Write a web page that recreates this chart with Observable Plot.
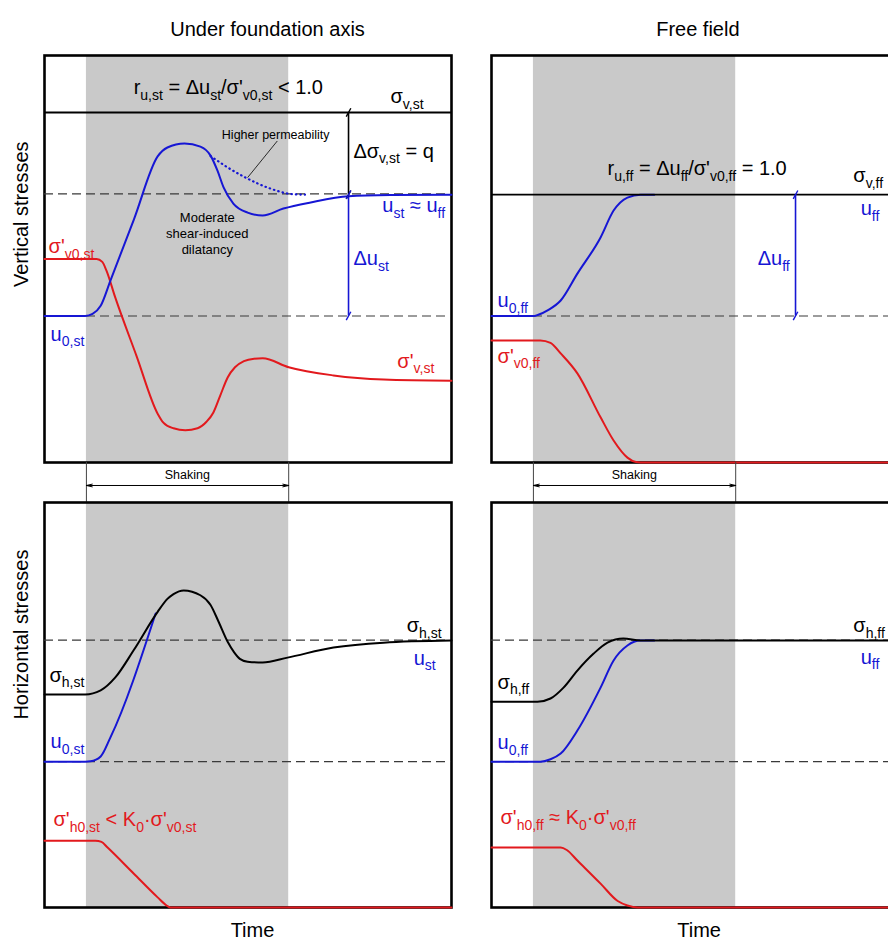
<!DOCTYPE html>
<html><head><meta charset="utf-8">
<script src="https://cdn.jsdelivr.net/npm/d3@7"></script>
<script src="https://cdn.jsdelivr.net/npm/@observablehq/plot@0.6"></script>
<style>
html,body{margin:0;padding:0;background:#fff;overflow:hidden;}
#chart{position:relative;width:888px;height:946px;overflow:hidden;background:#fff;}
#chart > div{position:absolute;}
</style></head><body><div id="chart"></div>
<script>
// ---------------- data (time 0–100, stress 0–100, schematic units) ----------------
const columnTitles = ["Under foundation axis", "Free field"];
const rowTitles = ["Vertical stresses", "Horizontal stresses"];
const timeLabel = "Time";
const shaking = [10.3, 60];            // start / end of shaking
const shakingLabel = "Shaking";

// vertical stresses, under foundation axis
const vStTotal = [[0, 86], [100, 86]];
const vStPore = [[0,36],[10,36],[11.8,36.5],[13.8,38.5],[16.2,44.7],[22,59.8],[27.8,75.2],[30.2,77.4],[34.4,78.4],[38.3,77.6],[40.8,75.4],[42.5,71.7],[44,67.6],[46.4,63.6],[49.9,61.4],[53.6,60.7],[58.7,62.4],[65.4,63.9],[74.7,65.4],[85,65.7],[100,65.8]];
const vStPoreHighPerm = [[40.8,75.3],[45,72.5],[49.4,70],[55.5,67.3],[60.4,66],[64,65.8]];
const vStEff = [[0,50],[12.8,50],[14.2,49.3],[15.2,47.2],[17.4,40.5],[22.6,26.2],[27.8,12],[29.2,9.8],[31.7,8.4],[34.6,7.9],[37.6,8.4],[39.8,10],[41.5,12.3],[43.2,16.5],[45,20.9],[46.8,23.4],[49,24.9],[51.5,25.5],[53.6,25.6],[60,23.4],[71,21.4],[83.3,20.4],[100,20.1]];
const vStRefs = [66, 36];
// vertical stresses, free field
const vFfTotal = [[0, 65.8], [100, 65.8]];
const vFfPore = [[0,36],[10.5,36],[11.5,36.3],[14,37.5],[17,39.8],[21.1,46.4],[26.8,55.3],[30,61.9],[33.4,65.1],[36.6,65.8],[40,65.8]];
const vFfEff = [[0,30],[12,30],[14.5,29.4],[17,26.8],[21.1,21.9],[26.8,11.1],[30,5.4],[33.4,1.2],[35.5,0.1],[36.6,0],[100,0]];
const vFfRefs = [36];
// horizontal stresses, under foundation axis
const hStTotal = [[0,52.6],[10,52.6],[13.8,53.6],[17.4,56.8],[21.9,63.5],[27.8,73.0],[30.2,76.2],[31.7,77.4],[34.2,78.3],[38.3,77.1],[40.8,74.7],[42.8,70.5],[45,65.6],[46.6,63.0],[48,61.4],[49.9,60.7],[53.6,60.5],[59.7,61.7],[71,64.2],[83.3,65.4],[100,65.9]];
const hStPore = [[0,36],[10,36],[11.3,36.1],[13.8,37.3],[16.2,42],[27.3,72.6]];
const hStEff = [[0,16.5],[12.5,16.5],[14,16.2],[15.5,14.8],[21.9,8.4],[27.8,2.5],[30,0.5],[31,0],[100,0]];
const hStRefs = [66, 36];
// horizontal stresses, free field
const hFfTotal = [[0,50.8],[11.3,50.8],[14.5,51.6],[17.7,54.3],[21.1,58.5],[25.1,62.7],[28.5,65.4],[32.4,66.4],[36.6,65.9],[100,65.9]];
const hFfPore = [[0,36],[12,36],[14.5,36.6],[17,38],[21.1,43.7],[26.8,54.3],[30,61],[33.4,64.7],[36.6,65.9],[40,65.9]];
const hFfEff = [[0,14.8],[17,14.8],[18.5,14.2],[21.1,11.6],[26.8,5.9],[31,1.6],[33.4,0.5],[35.9,0],[100,0]];
const hFfRefs = [66, 36];

const BLUE = "#1616d4", RED = "#e2191d", SHADE = "#c9c9c9";

// dimension arrows
const vStDims = [{x: 74.7, y1: 86, y2: 65.8, c: "black"}, {x: 74.7, y1: 65.8, y2: 36, c: BLUE}];
const vFfDims = [{x: 74.7, y1: 65.8, y2: 36, c: BLUE}];

// annotations
const vStLabels = [
  {x: 21.9, y: 92.0, t: "r_{u,st} = Δu_{st}/σ'_{v0,st} < 1.0", c: "black"},
  {x: 85.0, y: 89.8, t: "σ_{v,st}", c: "black"},
  {x: 75.9, y: 76.5, t: "Δσ_{v,st} = q", c: "black"},
  {x: 83.0, y: 63.0, t: "u_{st} ≈ u_{ff}", c: BLUE},
  {x: 1.0, y: 53.0, t: "σ'_{v0,st}", c: RED},
  {x: 75.9, y: 50.0, t: "Δu_{st}", c: BLUE},
  {x: 1.5, y: 31.5, t: "u_{0,st}", c: BLUE},
  {x: 86.7, y: 24.9, t: "σ'_{v,st}", c: RED}
];
const vStNotes = [
  {x: 56.8, y: 80.8, t: "Higher permeability", size: 12.5},
  {x: 40, y: 56.5, t: "Moderate\nshear-induced\ndilatancy", size: 13}
];
const vStLeader = [{x1: 57.2, y1: 79.0, x2: 49.9, y2: 70.0}];
const vFfLabels = [
  {x: 28.5, y: 72.1, t: "r_{u,ff} = Δu_{ff}/σ'_{v0,ff} = 1.0", c: "black"},
  {x: 88.9, y: 70.4, t: "σ_{v,ff}", c: "black"},
  {x: 90.7, y: 62.3, t: "u_{ff}", c: BLUE},
  {x: 65.4, y: 50.0, t: "Δu_{ff}", c: BLUE},
  {x: 1.5, y: 39.7, t: "u_{0,ff}", c: BLUE},
  {x: 1.5, y: 26.1, t: "σ'_{v0,ff}", c: RED}
];
const hStLabels = [
  {x: 89.0, y: 69.6, t: "σ_{h,st}", c: "black"},
  {x: 90.7, y: 61.5, t: "u_{st}", c: BLUE},
  {x: 1.2, y: 57.3, t: "σ_{h,st}", c: "black"},
  {x: 1.5, y: 40.9, t: "u_{0,st}", c: BLUE},
  {x: 2.2, y: 21.7, t: "σ'_{h0,st} < K_{0}·σ'_{v0,st}", c: RED}
];
const hFfLabels = [
  {x: 88.9, y: 69.6, t: "σ_{h,ff}", c: "black"},
  {x: 90.7, y: 61.8, t: "u_{ff}", c: BLUE},
  {x: 1.5, y: 55.6, t: "σ_{h,ff}", c: "black"},
  {x: 1.5, y: 40.6, t: "u_{0,ff}", c: BLUE},
  {x: 2.2, y: 22.2, t: "σ'_{h0,ff} ≈ K_{0}·σ'_{v0,ff}", c: RED}
];

// ---------------- drawing ----------------
const FONT = "'Liberation Sans', Arial, Helvetica, sans-serif";
const slash = {draw(ctx, size) { const r = Math.sqrt(size / Math.PI); ctx.moveTo(-0.55 * r, r); ctx.lineTo(0.55 * r, -r); }};
const X = d => d[0], Y = d => d[1];
const curve = (arr, stroke, extra = {}) => Plot.line(arr, {x: X, y: Y, stroke, strokeWidth: 2, curve: "monotone-x", strokeLinejoin: "round", ...extra});

function panel(cfg) {
  const marks = [
    Plot.rect([shaking], {x1: d => d[0], x2: d => d[1], y1: 0, y2: 100, fill: SHADE}),
    Plot.frame({stroke: "black", strokeWidth: 2.6}),
    Plot.ruleY(cfg.refs, {stroke: "#3a3a3a", strokeWidth: 1.2, strokeDasharray: "9,5"}),
    ...cfg.marks
  ];
  if (cfg.dims) {
    marks.push(Plot.ruleX(cfg.dims, {x: "x", y1: "y1", y2: "y2", stroke: "c", strokeWidth: 1.6}));
    const ends = cfg.dims.flatMap(d => [{x: d.x, y: d.y1, c: d.c}, {x: d.x, y: d.y2, c: d.c}]);
    marks.push(Plot.dot(ends, {x: "x", y: "y", stroke: "c", fill: "none", symbol: slash, r: 4.2, strokeWidth: 1.4}));
  }
  if (cfg.shakeLabel) {
    const mid = (shaking[0] + shaking[1]) / 2;
    marks.push(Plot.ruleX(shaking, {x: d => d, y1: 0, y2: -9.8, stroke: "#444", strokeWidth: 1}));
    marks.push(Plot.arrow([{a: mid, b: shaking[0]}, {a: mid, b: shaking[1]}], {x1: "a", x2: "b", y1: -5.65, y2: -5.65, stroke: "black", strokeWidth: 1, headLength: 9, headAngle: 26}));
    marks.push(Plot.text([shakingLabel], {x: [35.1], y: [-3.1], text: d => d, fontSize: 12.5, fill: "black"}));
  }
  if (cfg.labels) marks.push(Plot.text(cfg.labels, {x: "x", y: "y", text: "t", fill: "c", fontSize: 20, textAnchor: "start"}));
  if (cfg.notes) for (const n of cfg.notes) marks.push(Plot.text([n], {x: "x", y: "y", text: "t", fontSize: n.size, lineHeight: 1.23, fill: "black"}));
  if (cfg.title) marks.push(Plot.text([cfg.title], {x: [cfg.titleX], frameAnchor: "top", dy: -33.4, text: d => d, fontSize: 20, fill: "black"}));
  if (cfg.rowTitle) marks.push(Plot.text([cfg.rowTitle], {y: [cfg.rowY], frameAnchor: "left", dx: -22.5, rotate: -90, text: d => d, fontSize: 20, fill: "black"}));
  if (cfg.time) marks.push(Plot.text([cfg.time], {x: [cfg.timeX], frameAnchor: "bottom", dy: 29.6, text: d => d, fontSize: 20, fill: "black"}));
  return Plot.plot({
    width: cfg.width, height: cfg.height,
    marginLeft: cfg.ml, marginRight: cfg.mr, marginTop: cfg.mt, marginBottom: cfg.mb,
    x: {domain: [0, 100], axis: null},
    y: {domain: [0, 100], axis: null},
    color: {type: "identity"},
    style: {fontFamily: FONT, background: "transparent", overflow: "visible", maxWidth: "none"},
    marks
  });
}

const specs = [
  {left: 0, top: 0, width: 461, height: 502, ml: 44, mr: 10, mt: 55, mb: 40,
   refs: vStRefs, dims: vStDims, shakeLabel: true, labels: vStLabels, notes: vStNotes,
   title: columnTitles[0], titleX: 54.8, rowTitle: rowTitles[0], rowY: 43.1,
   marks: [
     Plot.ruleY(vStTotal.slice(0, 1), {y: d => d[1], stroke: "black", strokeWidth: 1.8}),
     Plot.link(vStLeader, {x1: "x1", y1: "y1", x2: "x2", y2: "y2", stroke: "black", strokeWidth: 0.8}),
     curve(vStPoreHighPerm, BLUE, {strokeDasharray: "0.5,4", strokeLinecap: "round", strokeWidth: 2.2}),
     curve(vStEff, RED),
     curve(vStPore, BLUE)
   ]},
  {left: 451, top: 0, width: 457, height: 502, ml: 40, mr: 10, mt: 55, mb: 40,
   refs: vFfRefs, dims: vFfDims, shakeLabel: true, labels: vFfLabels,
   title: columnTitles[1], titleX: 50.7,
   marks: [
     curve(vFfEff, RED),
     curve(vFfPore, BLUE),
     Plot.ruleY(vFfTotal.slice(0, 1), {y: d => d[1], stroke: "black", strokeWidth: 1.8})
   ]},
  {left: 0, top: 462, width: 461, height: 484, ml: 44, mr: 10, mt: 40, mb: 39,
   refs: hStRefs, labels: hStLabels, rowTitle: rowTitles[1], rowY: 46.4, time: timeLabel, timeX: 51.1,
   marks: [
     curve(hStEff, RED),
     curve(hStPore, BLUE),
     curve(hStTotal, "black")
   ]},
  {left: 451, top: 462, width: 457, height: 484, ml: 40, mr: 10, mt: 40, mb: 39,
   refs: hFfRefs, labels: hFfLabels, time: timeLabel, timeX: 51.0,
   marks: [
     curve(hFfEff, RED),
     curve(hFfPore, BLUE),
     curve(hFfTotal, "black")
   ]}
];

function applySubscripts(svg) {
  const NS = "http://www.w3.org/2000/svg";
  for (const t of svg.querySelectorAll("text")) {
    const s = t.textContent;
    if (!s.includes("_{")) continue;
    const fs = parseFloat(getComputedStyle(t).fontSize) || 20;
    const shift = fs * 0.28;
    const parts = s.split(/(_\{[^}]*\})/).filter(p => p !== "");
    while (t.firstChild) t.removeChild(t.firstChild);
    let lowered = false;
    for (const p of parts) {
      const ts = document.createElementNS(NS, "tspan");
      if (p.startsWith("_{")) {
        ts.textContent = p.slice(2, -1);
        ts.setAttribute("font-size", (fs * 0.7).toFixed(1));
        if (!lowered) { ts.setAttribute("dy", shift.toFixed(1)); lowered = true; }
      } else {
        ts.textContent = p;
        if (lowered) { ts.setAttribute("dy", (-shift).toFixed(1)); lowered = false; }
      }
      t.appendChild(ts);
    }
  }
}

const root = document.getElementById("chart");
for (const s of specs) {
  const div = document.createElement("div");
  div.style.left = s.left + "px";
  div.style.top = s.top + "px";
  const svg = panel(s);
  div.appendChild(svg);
  root.appendChild(div);
  applySubscripts(svg);
}
</script></body></html>
